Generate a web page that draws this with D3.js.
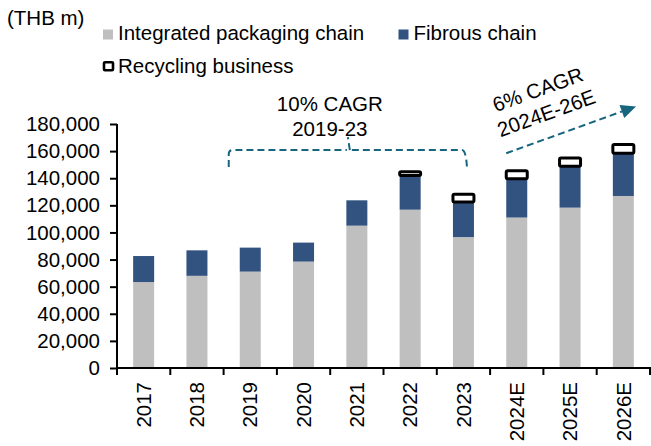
<!DOCTYPE html>
<html>
<head>
<meta charset="utf-8">
<script src="https://cdn.jsdelivr.net/npm/d3@7"></script>
<style>
  body { margin: 0; background: #fff; }
  svg { display: block; font-family: "Liberation Sans", Arial, sans-serif; font-size: 20.5px; }
  .axis path, .axis line { stroke: #000; stroke-width: 2; }
  .axis text { fill: #000; font-size: 20.5px; font-family: "Liberation Sans", Arial, sans-serif; }
</style>
</head>
<body>
<svg width="651" height="446"></svg>
<script>
// data (THB m)
var years = ["2017", "2018", "2019", "2020", "2021", "2022", "2023", "2024E", "2025E", "2026E"];
var packaging = [63400, 68000, 71100, 78500, 105000, 116800, 96600, 111000, 118300, 126900];
var fibrous = [19200, 18800, 17700, 14000, 18700, 25200, 25800, 28600, 30600, 31600];
var recycling = [0, 0, 0, 0, 0, 2700, 5800, 5900, 6100, 6300];
var yTicks = [0, 20000, 40000, 60000, 80000, 100000, 120000, 140000, 160000, 180000];

var svg = d3.select("svg"),
    margin = {top: 124, right: 1, bottom: 78, left: 117},
    width = +svg.attr("width") - margin.left - margin.right,
    height = +svg.attr("height") - margin.top - margin.bottom;

var teal = "#17657f";

var x = d3.scaleBand().domain(years).range([0, width])
    .paddingInner(0.606).paddingOuter(0.303);
var y = d3.scaleLinear().domain([0, 180000]).range([height, 0]);

var g = svg.append("g")
    .attr("transform", "translate(" + margin.left + "," + margin.top + ")");

// stacked rows
var rows = years.map(function(d, i) {
  return {year: d, packaging: packaging[i], fibrous: fibrous[i], recycling: recycling[i]};
});
var stack = d3.stack().keys(["packaging", "fibrous", "recycling"])(rows);

g.selectAll(".bar-pack")
  .data(stack[0])
  .enter().append("rect")
    .attr("x", function(d) { return x(d.data.year); })
    .attr("y", function(d) { return y(d[1]); })
    .attr("width", x.bandwidth())
    .attr("height", function(d) { return y(d[0]) - y(d[1]); })
    .attr("fill", "#bfbfbf");

g.selectAll(".bar-fib")
  .data(stack[1])
  .enter().append("rect")
    .attr("x", function(d) { return x(d.data.year); })
    .attr("y", function(d) { return y(d[1]); })
    .attr("width", x.bandwidth())
    .attr("height", function(d) { return y(d[0]) - y(d[1]); })
    .attr("fill", "#32527f");

g.selectAll(".bar-rec")
  .data(stack[2].filter(function(d) { return d[1] > d[0]; }))
  .enter().append("rect")
    .attr("x", function(d) { return x(d.data.year); })
    .attr("y", function(d) { return y(d[1]); })
    .attr("width", x.bandwidth())
    .attr("height", function(d) { return y(d[0]) - y(d[1]); })
    .attr("rx", 1.5)
    .attr("fill", "#fff")
    .attr("stroke", "#000")
    .attr("stroke-width", 3);

// y axis
g.append("g")
  .attr("class", "axis")
  .call(d3.axisLeft(y).tickValues(yTicks).tickSize(7).tickPadding(10)
    .tickFormat(d3.format(",")))
  .call(function(a) { a.select(".domain").attr("d", "M0," + (height + 1) + "V0"); });

// x axis: ticks on band boundaries
var xa = g.append("g").attr("class", "axis")
  .attr("transform", "translate(0," + height + ")");
xa.append("line").attr("x1", -1).attr("x2", width + 1);
xa.selectAll(".tk")
  .data(d3.range(years.length + 1))
  .enter().append("line")
    .attr("x1", function(i) { return i * x.step(); })
    .attr("x2", function(i) { return i * x.step(); })
    .attr("y1", 0).attr("y2", 7);
xa.selectAll(".lbl")
  .data(years)
  .enter().append("text")
    .attr("transform", function(d) {
      return "translate(" + (x(d) + x.bandwidth() / 2) + ",14) rotate(-90)";
    })
    .attr("dy", "0.35em")
    .attr("text-anchor", "end")
    .text(function(d) { return d; });

// unit label
svg.append("text").attr("x", 7).attr("y", 25).text("(THB m)");

// legend
var leg = svg.append("g");
leg.append("rect").attr("x", 103).attr("y", 29.5).attr("width", 10).attr("height", 10).attr("fill", "#bfbfbf");
leg.append("text").attr("x", 118).attr("y", 40).text("Integrated packaging chain");
leg.append("rect").attr("x", 398.5).attr("y", 29.5).attr("width", 10).attr("height", 10).attr("fill", "#32527f");
leg.append("text").attr("x", 413.5).attr("y", 40).text("Fibrous chain");
leg.append("rect").attr("x", 104).attr("y", 62.3).attr("width", 9).attr("height", 8)
  .attr("fill", "#fff").attr("stroke", "#000").attr("stroke-width", 2.6).attr("rx", 1);
leg.append("text").attr("x", 118).attr("y", 72.5).text("Recycling business");

// 10% CAGR bracket (2019-23)
var bl = x("2019") - 11,
    br = x("2023") + x.bandwidth() - 7,
    bm = (bl + br) / 2,
    by = y(160000) - 1;
g.append("path")
  .attr("d", "M" + bl + "," + (by + 17) + "V" + (by + 4) + "Q" + bl + "," + by + " " + (bl + 4) + "," + by +
    "H" + (bm - 1) + "M" + (bm + 2) + "," + by + "L" + bm + "," + (by - 13) +
    "M" + (bm + 4) + "," + by +
    "H" + (br - 5) + "Q" + (br - 1) + "," + by + " " + br + "," + (by + 17))
  .attr("fill", "none").attr("stroke", teal).attr("stroke-width", 2)
  .attr("stroke-dasharray", "7,4");
var t1 = g.append("text").attr("text-anchor", "middle");
t1.append("tspan").attr("x", bm - 18).attr("y", by - 39).text("10% CAGR");
t1.append("tspan").attr("x", bm - 18).attr("y", by - 14).text("2019-23");

// 6% CAGR arrow (2024E-26E)
var ax0 = x("2024E"), ay0 = y(158400),
    ax1 = width - 14, ay1 = y(193000);
var ang = Math.atan2(ay1 - ay0, ax1 - ax0);
var hl = 15;
var hx = ax1 - hl * Math.cos(ang), hy = ay1 - hl * Math.sin(ang);
g.append("line")
  .attr("x1", ax0).attr("y1", ay0).attr("x2", hx).attr("y2", hy)
  .attr("stroke", teal).attr("stroke-width", 2).attr("stroke-dasharray", "7,4");
var px = -Math.sin(ang) * 7, py = Math.cos(ang) * 7;
g.append("path")
  .attr("d", "M" + ax1 + "," + ay1 + "L" + (hx + px) + "," + (hy + py) + "L" + (hx - px) + "," + (hy - py) + "Z")
  .attr("fill", teal);
var t2 = g.append("text")
  .attr("transform", "translate(" + (ax0 + 34) + "," + (ay0 - 57) + ") rotate(" + (ang * 180 / Math.PI) + ")")
  .attr("text-anchor", "middle");
t2.append("tspan").attr("x", 0).attr("y", 0).text("6% CAGR");
t2.append("tspan").attr("x", 0).attr("y", 25).text("2024E-26E");
</script>
</body>
</html>
